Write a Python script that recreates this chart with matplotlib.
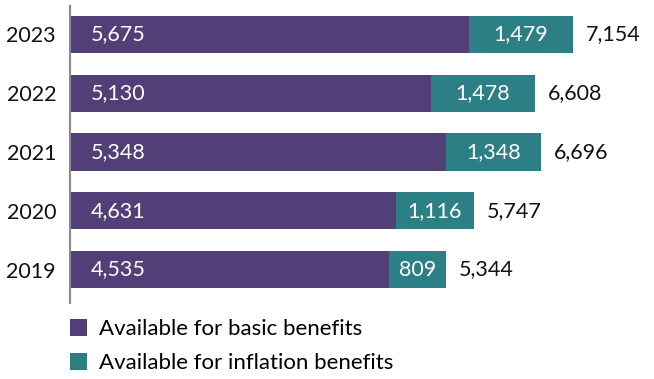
import matplotlib
matplotlib.use("Agg")
import matplotlib.pyplot as plt
import numpy as np

plt.rcParams['font.family'] = ['Lato', 'DejaVu Sans']

years = ['2019', '2020', '2021', '2022', '2023']
basic = [4535, 4631, 5348, 5130, 5675]
inflation = [809, 1116, 1348, 1478, 1479]
totals = [5344, 5747, 6696, 6608, 7154]

purple = '#523f77'
teal = '#2c8085'
fs = 15.5

fig = plt.figure(figsize=(6.54, 3.79), dpi=100)
ax = fig.add_axes([70 / 654, 76 / 379, 584 / 654, 297 / 379])

y = np.arange(len(years))
b1 = ax.barh(y, basic, height=0.63, color=purple, label='Available for basic benefits')
b2 = ax.barh(y, inflation, left=basic, height=0.63, color=teal, label='Available for inflation benefits')

# values inside the bars and totals to the right
for i in range(len(years)):
    ax.annotate(f'{basic[i]:,}', (0, y[i]), xytext=(21, 0), textcoords='offset pixels',
                ha='left', va='center', color='white', fontsize=fs)
    ax.text(basic[i] + inflation[i] / 2, y[i], f'{inflation[i]:,}',
            ha='center', va='center', color='white', fontsize=fs)
    ax.annotate(f'{totals[i]:,}', (totals[i], y[i]), xytext=(13, 0), textcoords='offset pixels',
                ha='left', va='center', color='#111111', fontsize=fs)

ax.set_xlim(0, 584 / 0.0703)
ax.set_ylim(-0.57, 4.485)
ax.set_yticks(y)
ax.set_yticklabels(years, fontsize=fs, color='#111111')
ax.tick_params(axis='y', length=0, pad=10)
ax.set_xticks([])
for s in ['top', 'right', 'bottom']:
    ax.spines[s].set_visible(False)
ax.spines['left'].set_color('#8a8a8a')
ax.spines['left'].set_linewidth(1.5)

ax.legend(handles=[b1, b2], loc='upper left', bbox_to_anchor=(-0.016, -0.025),
          frameon=False, fontsize=16, handlelength=0.78, handleheight=0.78,
          handletextpad=0.55, labelspacing=0.62, borderaxespad=0)

fig.savefig('out.png', dpi=100)
